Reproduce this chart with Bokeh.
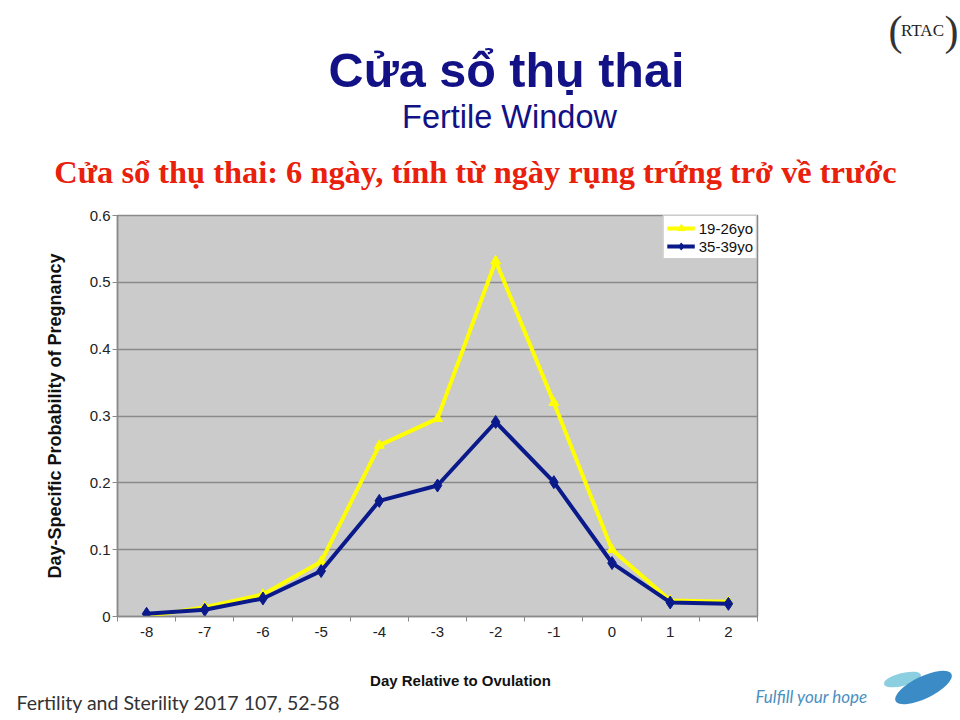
from bokeh.plotting import figure
from bokeh.models import Legend, LegendItem, FixedTicker, Range1d
from bokeh.layouts import column
from bokeh.core.properties import value
from bokeh.embed import file_html
from bokeh.resources import INLINE

# ---- data ----
days = [-8, -7, -6, -5, -4, -3, -2, -1, 0, 1, 2]
tick_labels = ["-8", "-7", "-6", "-5", "-4", "-3", "-2", "-1", "0", "1", "2"]
young = [0.0, 0.014, 0.033, 0.082, 0.256, 0.296, 0.532, 0.320, 0.100, 0.024, 0.022]
older = [0.004, 0.010, 0.027, 0.068, 0.173, 0.196, 0.291, 0.201, 0.080, 0.021, 0.019]
series_names = ["19-26yo", "35-39yo"]
y_ticks = [0, 0.1, 0.2, 0.3, 0.4, 0.5, 0.6]
y_tick_labels = ["0", "0.1", "0.2", "0.3", "0.4", "0.5", "0.6"]

title_text = "Cửa sổ thụ thai"
subtitle_text = "Fertile Window"
note_text = "Cửa sổ thụ thai: 6 ngày, tính từ ngày rụng trứng trở về trước"
source_text = "Fertility and Sterility 2017 107, 52-58"
slogan_text = "Fulfill your hope"
x_label = "Day Relative to Ovulation"
y_label = "Day-Specific Probability of Pregnancy"

W = 960


def blank(height, y0, y1):
    f = figure(width=W, height=height, output_backend="svg", toolbar_location=None,
               x_range=Range1d(0, W), y_range=Range1d(y1, y0), min_border=0,
               frame_align=False, title_location=None)
    f.axis.visible = False
    f.grid.grid_line_color = None
    f.outline_line_color = None
    f.background_fill_color = "#ffffff"
    f.border_fill_color = "#ffffff"
    return f


def txt(f, x, y, text, size, color, font="Liberation Sans", style="normal",
        align="left"):
    f.text(x=[x], y=[y], text=[text], text_font=value(font),
           text_font_size=value(size), text_color=color,
           text_font_style=style, text_align=align, text_baseline="alphabetic")


# ---- header (page y 0..200) ----
head = blank(200, 0, 200)
txt(head, 506, 69, title_text, "48.5px", "#121286", style="bold", align="center")
txt(head, 509, 116, subtitle_text, "32.5px", "#121286", align="center")
txt(head, 475, 171, note_text, "32.4px", "#e8200c", font="Liberation Serif",
    style="bold", align="center")
txt(head, 888, 30, "(", "42px", "#333333", font="Liberation Serif")
txt(head, 922, 30, "RTAC", "17px", "#222222", font="Liberation Serif", align="center")
txt(head, 944, 30, ")", "42px", "#333333", font="Liberation Serif")

# ---- chart (page y 200..665) ----
p = figure(width=W, height=465, output_backend="svg", toolbar_location=None,
           x_range=Range1d(-8.5, 2.5), y_range=Range1d(0, 0.6),
           min_border_left=117, min_border_right=203, min_border_top=15,
           min_border_bottom=49, frame_align=False)
p.background_fill_color = "#cbcbcb"
p.border_fill_color = "#ffffff"
p.outline_line_color = "#8a8a8a"
p.outline_line_width = 1.5

xa = p.xaxis[0]
xa.ticker = FixedTicker(ticks=days, minor_ticks=[d + 0.5 for d in days] + [-8.5])
xa.major_label_overrides = {d: t for d, t in zip(days, tick_labels)}
xa.major_tick_line_color = None
xa.major_tick_out = 6
xa.major_tick_in = 0
xa.minor_tick_out = 5
xa.minor_tick_in = 0
xa.minor_tick_line_color = "#8a8a8a"
xa.major_label_standoff = 4
xa.major_label_text_font = "Liberation Sans"
xa.major_label_text_font_size = "15px"
xa.major_label_text_color = "#222222"
xa.axis_line_color = "#8a8a8a"
xa.axis_line_width = 1.5

ya = p.yaxis[0]
ya.ticker = FixedTicker(ticks=y_ticks, minor_ticks=[])
ya.major_label_overrides = {t: l for t, l in zip(y_ticks, y_tick_labels)}
ya.major_tick_out = 5
ya.major_tick_in = 0
ya.major_tick_line_color = "#8a8a8a"
ya.minor_tick_line_color = None
ya.major_label_standoff = 2
ya.major_label_text_font = "Liberation Sans"
ya.major_label_text_font_size = "15px"
ya.major_label_text_color = "#222222"
ya.axis_line_color = "#8a8a8a"
ya.axis_line_width = 1.5
ya.axis_label = y_label
ya.axis_label_text_font = "Liberation Sans"
ya.axis_label_text_font_style = "bold"
ya.axis_label_text_font_size = "18px"
ya.axis_label_text_color = "#111111"
ya.axis_label_standoff = 22

p.xgrid.grid_line_color = None
p.ygrid.grid_line_color = "#8a8a8a"
p.ygrid.grid_line_width = 1.5
p.ygrid.ticker = FixedTicker(ticks=y_ticks)

yl = p.line(days, young, line_color="#ffff00", line_width=4)
ym = p.scatter(days, young, marker="triangle", size=10, fill_color="#ffff00",
               line_color="#ffff00")
bl = p.line(days, older, line_color="#0a1a8a", line_width=4)
bm = p.scatter(days, older, marker="diamond", size=13, fill_color="#0a1a8a",
               line_color="#0a1a8a")

legend = Legend(items=[LegendItem(label=series_names[0], renderers=[yl, ym]),
                       LegendItem(label=series_names[1], renderers=[bl, bm])],
                location="top_right", margin=0, padding=3, spacing=0,
                glyph_width=28, glyph_height=18, label_standoff=4,
                label_text_font="Liberation Sans", label_text_font_size="15px",
                label_text_color="#111111", label_height=18,
                border_line_color="#9a9a9a", border_line_width=1,
                background_fill_color="#ffffff", background_fill_alpha=1.0)
p.add_layout(legend)

# ---- footer (page y 665..720) ----
foot = blank(55, 665, 720)
txt(foot, 460, 680, x_label, "15px", "#111111", style="bold", align="center")
txt(foot, 16, 702, source_text, "19.5px", "#333333", font="Lato")
txt(foot, 755, 696, slogan_text, "17px", "#4b8fc0", font="Lato", style="italic")
foot.ellipse(x=[902], y=[679], width=38, height=13, angle=0.25,
             fill_color="#8ccfe0", line_color=None)
foot.ellipse(x=[923], y=[687], width=62, height=22, angle=0.45,
             fill_color="#3a8bc6", line_color=None)

layout = column(head, p, foot, spacing=0)
open("out.html", "w").write(file_html(layout, INLINE))
